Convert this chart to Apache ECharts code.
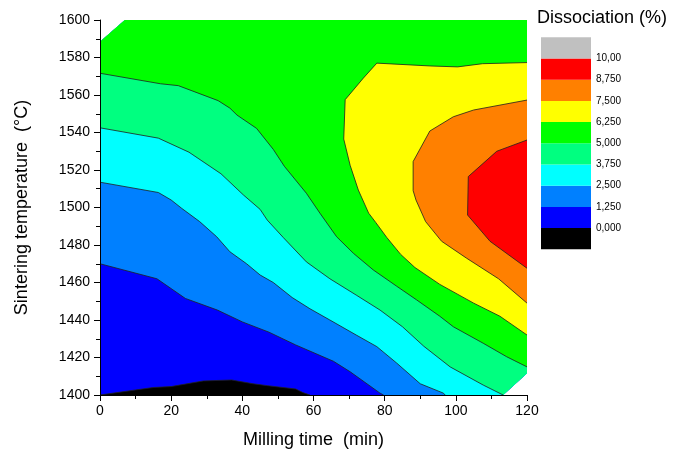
<!DOCTYPE html>
<html>
<head>
<meta charset="utf-8">
<script src="https://cdn.jsdelivr.net/npm/echarts@6/dist/echarts.min.js"></script>
<style>html,body{margin:0;padding:0;background:#fff}#main{width:673px;height:456px}</style>
</head>
<body>
<div id="main"></div>
<script>
// Contour levels (Dissociation %) and legend
const levels = [0, 1.25, 2.5, 3.75, 5, 6.25, 7.5, 8.75, 10];
const levelLabels = ['0,000', '1,250', '2,500', '3,750', '5,000', '6,250', '7,500', '8,750', '10,00'];
const bandColors = ['#000000', '#0000FF', '#0080FF', '#00FFFF', '#00FF80', '#00FF00', '#FFFF00', '#FF8000', '#FF0000', '#C0C0C0'];
const xTicks = [0, 20, 40, 60, 80, 100, 120];
const yTicks = [1400, 1420, 1440, 1460, 1480, 1500, 1520, 1540, 1560, 1580, 1600];

// Data domain (milling time, sintering temperature)
const domain = [[0, 1400], [113.3, 1400], [120, 1411.6], [120, 1600], [7, 1600], [0, 1588.4]];

// Contour lines, one per level
const c0 = [[0, 1400], [10, 1402.7], [15, 1404], [20, 1404.5], [29, 1407.5], [37, 1408], [43, 1406], [47, 1405], [55, 1403.2], [57, 1401.3], [59, 1400]];
const c1 = [[0, 1470], [16, 1462], [24, 1451.5], [33, 1445.3], [40, 1439], [47.5, 1433.5], [55, 1426.7], [65.6, 1418], [70.3, 1412.4], [78.7, 1401], [79.7, 1400]];
const c2 = [[0, 1513.5], [16.4, 1508], [20, 1504], [23, 1499.5], [28, 1492.5], [32.8, 1484.4], [36.5, 1476.4], [41.2, 1470], [45, 1464], [48.7, 1460], [54, 1452], [59, 1446], [64.6, 1440], [72, 1432], [77.8, 1425.8], [83.4, 1417], [90, 1406], [96.5, 1401], [97, 1400]];
const c3 = [[0, 1542.5], [16.4, 1537], [25, 1529.5], [34, 1518], [40.3, 1506.7], [45, 1499], [47, 1493.3], [51.5, 1484], [58, 1471], [64.6, 1462], [72, 1453.3], [78.7, 1445.3], [85, 1436.4], [91, 1426], [98.4, 1415], [107.7, 1405.3], [113.3, 1400]];
const c4 = [[0, 1571.6], [17, 1566], [22, 1565], [33.2, 1557], [36.5, 1553], [38.5, 1549.3], [44, 1542.2], [48.7, 1531], [51.8, 1522], [58, 1507.6], [61.8, 1497], [66.5, 1484.4], [71.2, 1475.6], [76.8, 1466.7], [83.4, 1458], [89, 1450.7], [95.5, 1442], [99.3, 1436.4], [107.7, 1427.6], [114.3, 1420.4], [120, 1415]];
const c5 = [[120, 1577.3], [107.5, 1576.7], [100.5, 1575], [92.7, 1575.5], [77.8, 1577], [74, 1569], [68.9, 1557.5], [68.5, 1536.5], [70.3, 1522.5], [72.6, 1509.3], [75.5, 1497], [77.5, 1492], [80.6, 1484], [84.5, 1475], [88.5, 1468], [95.5, 1459], [105, 1449], [112.4, 1442], [120, 1432]];
const c6 = [[120, 1557.3], [105, 1552], [99.3, 1548.4], [92.7, 1540.8], [88, 1524.5], [88, 1509], [88.8, 1504], [91.5, 1492.5], [96, 1482], [103, 1473], [112, 1462], [120, 1449]];
const c7 = [[120, 1536], [111.5, 1530], [103.5, 1516.5], [103.3, 1496], [109.6, 1482], [120, 1467.6]];
const contours = [c0, c1, c2, c3, c4, c5, c6, c7];

// position of a boundary point along the domain outline
function perimParam(p) {
  const n = domain.length;
  let best = Infinity, par = 0;
  for (let i = 0; i < n; i++) {
    const a = domain[i], b = domain[(i + 1) % n];
    const ax = a[0] / 120, ay = (a[1] - 1400) / 200, bx = b[0] / 120, by = (b[1] - 1400) / 200;
    const px = p[0] / 120, py = (p[1] - 1400) / 200;
    const dx = bx - ax, dy = by - ay;
    let t = ((px - ax) * dx + (py - ay) * dy) / (dx * dx + dy * dy);
    t = Math.max(0, Math.min(1, t));
    const d = Math.hypot(ax + t * dx - px, ay + t * dy - py);
    if (d < best - 1e-9) { best = d; par = i + t; }
  }
  return par;
}
// region where value >= level: contour + domain outline from its end back to its start
function regionOf(c) {
  const n = domain.length;
  const pts = c.slice();
  const ps = perimParam(c[0]), pe = perimParam(c[c.length - 1]);
  const end = ps <= pe ? ps + n : ps;
  for (let k = 1; k <= 2 * n; k++) {
    const v = Math.floor(pe) + k;
    if (v > pe + 1e-9 && v < end - 1e-9) pts.push(domain[v % n]);
  }
  return pts;
}
const layers = [domain].concat(contours.map(regionOf));
const layerValues = [-1].concat(levels.slice(0, 8).map((l, i) => (l + levels[i + 1]) / 2));

const pieces = [{ gte: levels[8], color: bandColors[9] }];
for (let i = 7; i >= 0; i--) pieces.push({ gte: levels[i], lt: levels[i + 1], color: bandColors[i + 1] });
pieces.push({ lt: levels[0], color: bandColors[0] });

const FONT = 'Arial, "Liberation Sans", sans-serif';
const chart = echarts.init(document.getElementById('main'));
chart.setOption({
  animation: false,
  title: {
    text: 'Dissociation (%)', left: 537, top: 9, padding: 0,
    textStyle: { fontFamily: FONT, fontSize: 18, fontWeight: 'normal', color: '#000' }
  },
  grid: [
    { left: 100, right: 146, top: 20, bottom: 61 },
    { left: 541, width: 50, top: 37.3, height: 212 }
  ],
  xAxis: [{
    type: 'value', min: 0, max: 120, interval: 20, z: 5,
    name: 'Milling time  (min)', nameLocation: 'middle', nameGap: 36,
    nameTextStyle: { fontFamily: FONT, fontSize: 18, color: '#000' },
    axisLine: { show: true, onZero: false, lineStyle: { color: '#000', width: 1 } },
    axisTick: { show: true, length: 6, lineStyle: { color: '#000' } },
    minorTick: { show: true, splitNumber: 2, length: 4, lineStyle: { color: '#000' } },
    splitLine: { show: false },
    axisLabel: { fontFamily: FONT, fontSize: 14, color: '#000', margin: 9,
      formatter: v => xTicks.includes(v) ? String(v) : '' }
  }, {
    type: 'value', gridIndex: 1, min: 0, max: 1, show: false
  }],
  yAxis: [{
    type: 'value', min: 1400, max: 1600, interval: 20, z: 5,
    name: 'Sintering temperature  (°C)', nameLocation: 'middle', nameGap: 69,
    nameTextStyle: { fontFamily: FONT, fontSize: 18, color: '#000' },
    axisLine: { show: true, onZero: false, lineStyle: { color: '#000', width: 1 } },
    axisTick: { show: true, length: 6, lineStyle: { color: '#000' } },
    minorTick: { show: true, splitNumber: 2, length: 4, lineStyle: { color: '#000' } },
    splitLine: { show: false },
    axisLabel: { fontFamily: FONT, fontSize: 14, color: '#000', margin: 10,
      formatter: v => yTicks.includes(v) ? String(v) : '' }
  }, {
    type: 'value', gridIndex: 1, min: 0, max: bandColors.length, interval: 1, position: 'right',
    axisLine: { show: false }, axisTick: { show: false }, splitLine: { show: false },
    axisLabel: { fontFamily: FONT, fontSize: 10, color: '#000', margin: 5,
      formatter: v => (v >= 1 && v <= levelLabels.length) ? levelLabels[v - 1] : '' }
  }],
  visualMap: {
    type: 'piecewise', show: false, seriesIndex: 0, dimension: 1,
    pieces: pieces
  },
  series: [
    {
      type: 'custom', silent: true, z: 2,
      encode: { x: 0, y: 1 },
      data: layers.map((l, i) => [i, layerValues[i]]),
      renderItem: function (params, api) {
        const poly = layers[params.dataIndex];
        return {
          type: 'polygon',
          shape: { points: poly.map(p => api.coord(p)) },
          style: { fill: api.visual('color'), stroke: null }
        };
      }
    },
    {
      type: 'custom', silent: true, z: 3,
      encode: { x: 0, y: 1 },
      data: contours.map((c, i) => [i, 1500]),
      renderItem: function (params, api) {
        const c = contours[params.dataIndex];
        return {
          type: 'polyline',
          shape: { points: c.map(p => api.coord(p)) },
          style: { stroke: '#202020', lineWidth: 0.8, fill: null }
        };
      }
    },
    {
      type: 'custom', silent: true, xAxisIndex: 1, yAxisIndex: 1,
      encode: { x: 0, y: 1 },
      data: bandColors.map((c, i) => [0, i]),
      renderItem: function (params, api) {
        const i = params.dataIndex;
        const tl = api.coord([0, i + 1]);
        const br = api.coord([1, i]);
        return {
          type: 'rect',
          shape: { x: tl[0], y: tl[1], width: br[0] - tl[0], height: br[1] - tl[1] },
          style: { fill: bandColors[i], stroke: null }
        };
      }
    }
  ]
});
</script>
</body>
</html>
